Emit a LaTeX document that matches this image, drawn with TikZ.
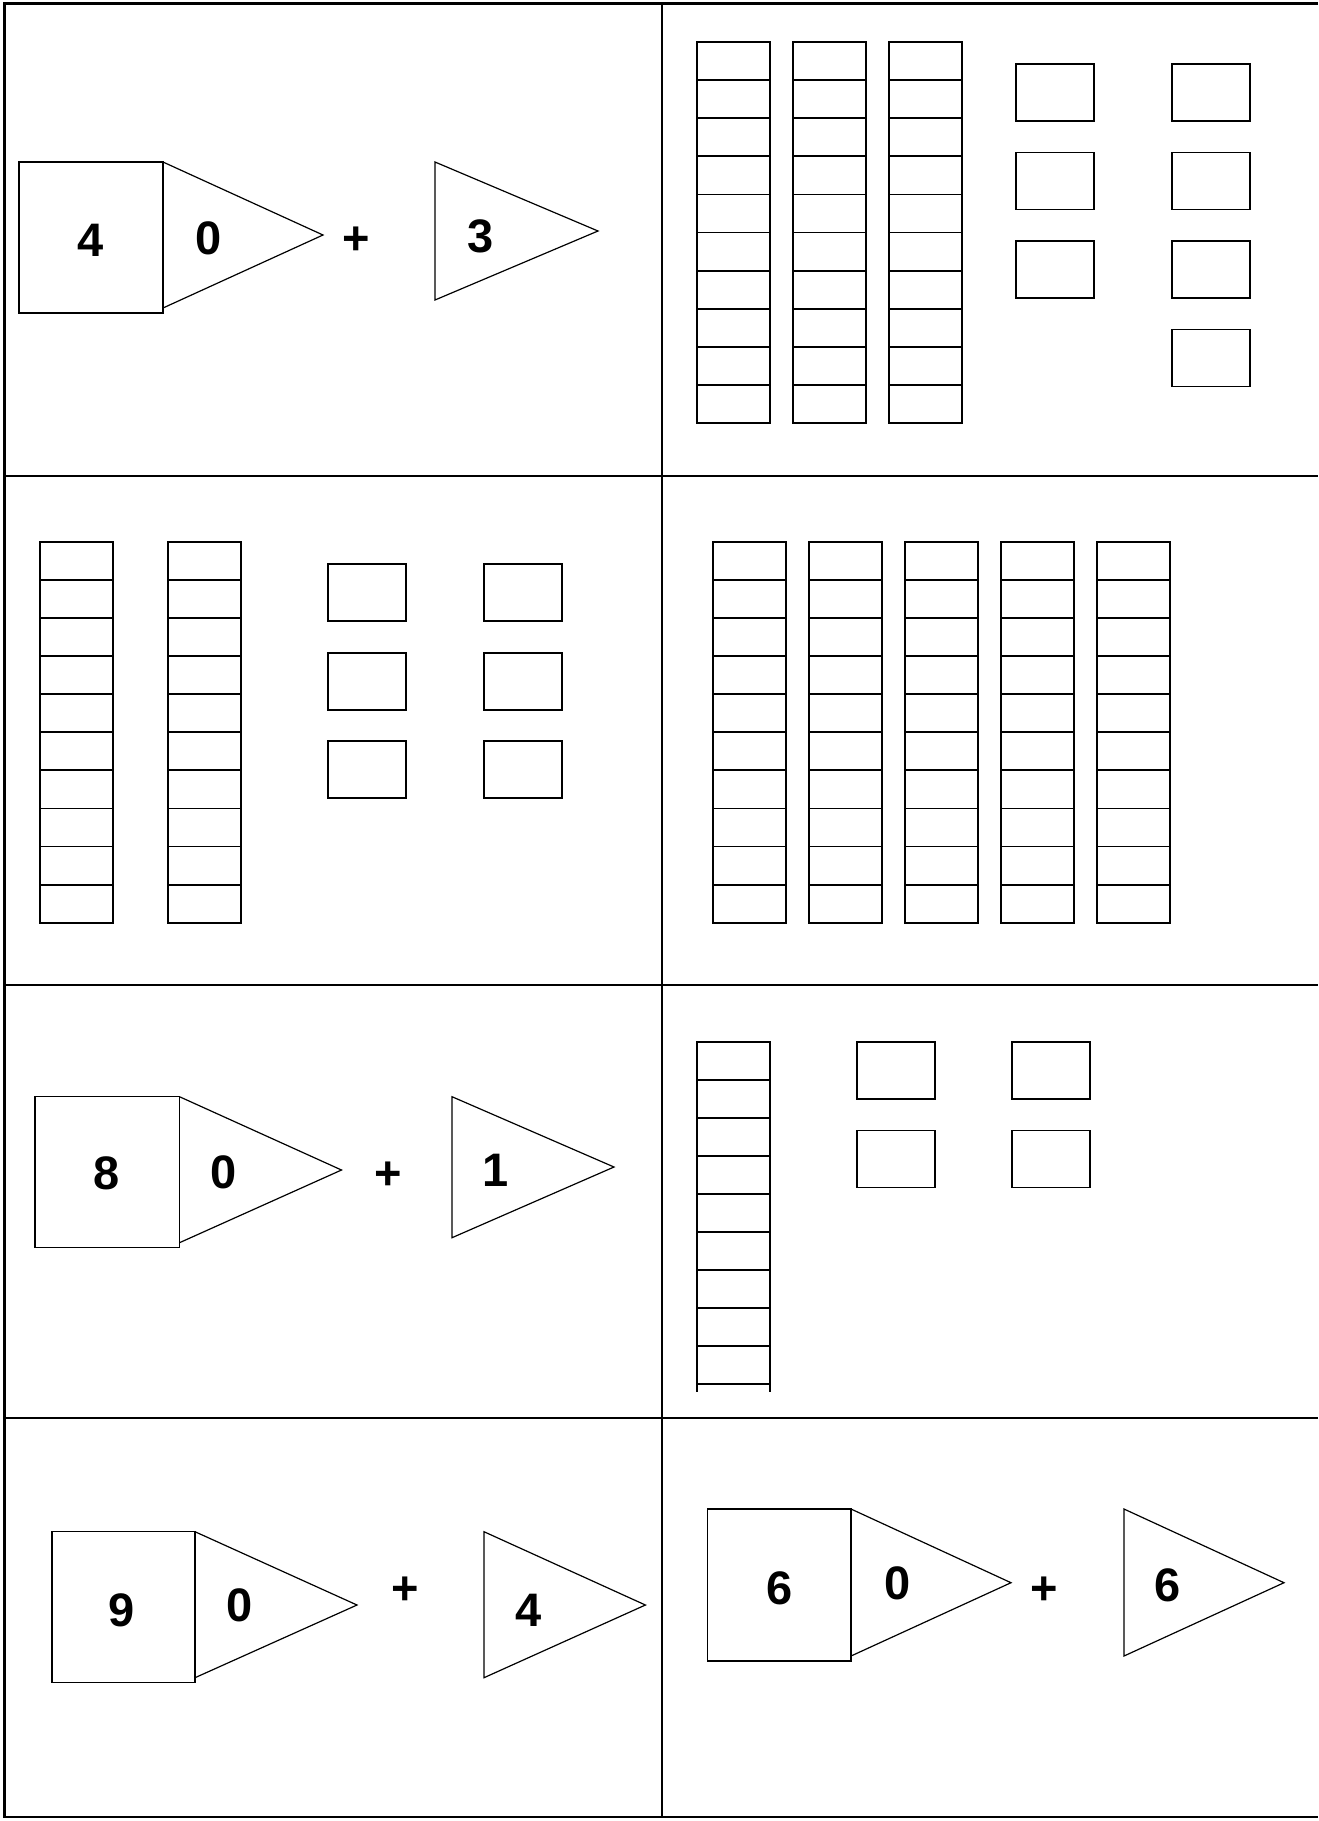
\documentclass[tikz,border=0pt]{standalone}
\usepackage{fontspec}
\setmainfont{Liberation Sans}
\usetikzlibrary{calc}
% one ten-rod: x, top y, ten cells of 38.1
\newcommand{\tenrod}[2]{%
  \draw[block] (#1,#2) rectangle ++(73,381);
  \foreach \k in {1,...,9} \draw[block] ($(#1,#2)+(0,\k*38.1)$) -- ++(73,0);
}
% one unit cube: x, top y
\newcommand{\unitbox}[2]{\draw[block] (#1,#2) rectangle ++(78,57);}

\begin{document}
\begin{tikzpicture}[
    x=0.5pt, y=-0.5pt,
    frame/.style={line width=1.2pt},
    block/.style={line width=0.9pt},
    flag/.style={line width=0.6pt},
    digit/.style={inner sep=0pt, font=\fontsize{23.5}{28}\selectfont\bfseries},
]
\useasboundingbox (0,0) rectangle (1318,1821);
\fill[white] (0,0) rectangle (1318,1821);
% table frame: four rows, two columns, open on the right
\draw[frame] (1318,3.5) -- (4.5,3.5) -- (4.5,1817) -- (1318,1817);
\draw[frame] (662,3.5) -- (662,1817);
\draw[frame] (4.5,476) -- (1318,476);
\draw[frame] (4.5,985) -- (1318,985);
\draw[frame] (4.5,1418) -- (1318,1418);
% row 1, left: 40 + 3
\draw[flag] (19,162) rectangle (163,313);
\draw[flag] (163,162) -- (323,235) -- (163,308);
\node[digit] (tensA) at (91,240) {4};
\node[digit] (zeroA) at (208.5,238.5) {0};
\node[digit] (plusA) at (356.5,241) {+};
\draw[flag] (435,162) -- (598,231) -- (435,300) -- cycle;
\node[digit] (onesA) at (481,236) {3};
% row 1, right: 3 rods, 7 units
\tenrod{697}{42}
\tenrod{793}{42}
\tenrod{889}{42}
\unitbox{1016}{64}
\unitbox{1016}{152.5}
\unitbox{1016}{241}
\unitbox{1172}{64}
\unitbox{1172}{152.5}
\unitbox{1172}{241}
\unitbox{1172}{329.5}
% row 2, left: 2 rods, 6 units
\tenrod{39.7}{541.7}
\tenrod{168}{541.7}
\unitbox{328}{563.7}
\unitbox{328}{652.7}
\unitbox{328}{740.7}
\unitbox{484}{563.7}
\unitbox{484}{652.7}
\unitbox{484}{740.7}
% row 2, right: 5 rods
\tenrod{713}{541.7}
\tenrod{809}{541.7}
\tenrod{905}{541.7}
\tenrod{1001}{541.7}
\tenrod{1097}{541.7}
% row 3, left: 80 + 1
\draw[flag] (35,1096.7) rectangle (179.5,1247.7);
\draw[flag] (179.5,1096.7) -- (341.5,1170) -- (179.5,1242.7);
\node[digit] (tensB) at (107,1173) {8};
\node[digit] (zeroB) at (224,1172) {0};
\node[digit] (plusB) at (388,1176) {+};
\draw[flag] (452,1096.7) -- (614,1167) -- (452,1237.7) -- cycle;
\node[digit] (onesB) at (495.5,1170) {1};
% row 3, right: one rod open at the bottom, 4 units
\draw[block] (697,1391.7) -- (697,1041.7) -- (770,1041.7) -- (770,1391.7);
\foreach \k in {1,...,9} \draw[block] ($(697,1041.7)+(0,\k*38)$) -- ++(73,0);
\unitbox{857}{1041.7}
\unitbox{857}{1130.5}
\unitbox{1012}{1041.7}
\unitbox{1012}{1130.5}
% row 4, left: 90 + 4
\draw[flag] (52,1531.7) rectangle (195,1682.7);
\draw[flag] (195,1531.7) -- (357,1605) -- (195,1677.7);
\node[digit] (tensC) at (122,1610) {9};
\node[digit] (zeroC) at (239.5,1605) {0};
\node[digit] (plusC) at (405,1591) {+};
\draw[flag] (484,1531.7) -- (645.4,1605) -- (484,1677.7) -- cycle;
\node[digit] (onesC) at (529,1610) {4};
% row 4, right: 60 + 6
\draw[flag] (707.6,1509) rectangle (851,1661);
\draw[flag] (851,1509) -- (1011,1582.7) -- (851,1656);
\node[digit] (tensD) at (780,1588) {6};
\node[digit] (zeroD) at (897.5,1583) {0};
\node[digit] (plusD) at (1044.5,1591) {+};
\draw[flag] (1124,1509) -- (1284,1582.7) -- (1124,1656) -- cycle;
\node[digit] (onesD) at (1168,1585) {6};
\end{tikzpicture}
\end{document}
